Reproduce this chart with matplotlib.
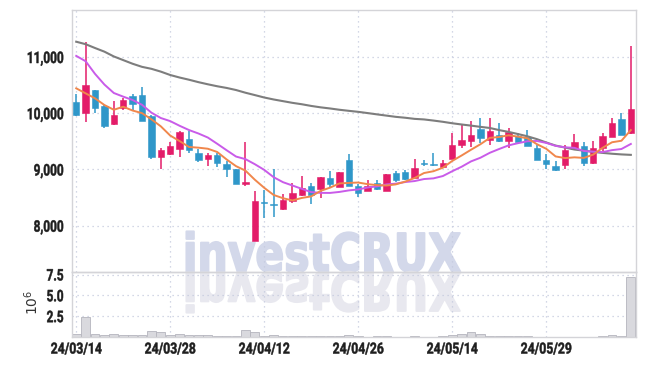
import matplotlib
matplotlib.use('Agg')
import matplotlib.pyplot as plt
from matplotlib.patheffects import AbstractPathEffect
from matplotlib.transforms import Affine2D

plt.rcParams['font.family'] = ['Roboto', 'DejaVu Sans']

# daily candles, 24/03/14 .. 24/06/12 (60 trading days)
opens = [10195, 10000, 10410, 10130, 9800, 10100, 10310, 10320, 9950, 9230,
         9270, 9360, 9550, 9300, 9190, 9255, 9095, 9000, 8745, 7730,
         8410, 8390, 8290, 8445, 8545, 8700, 8650, 8855, 8690, 9165,
         8715, 8615, 8765, 8620, 8930, 8950, 8845, 9110, 9085, 9050,
         9190, 9435, 9510, 9715, 9525, 9610, 9510, 9595, 9570, 9385,
         9165, 9060, 9080, 9360, 9415, 9110, 9375, 9585, 9895, 9640]
highs = [10340, 11270, 10420, 10150, 10220, 10280, 10340, 10460, 9960, 9380,
         9490, 9690, 9690, 9360, 9300, 9290, 9150, 9010, 9490, 8610,
         8630, 9000, 8560, 8760, 8880, 8760, 8865, 8970, 8955, 9275,
         8750, 8820, 8820, 8920, 8970, 8990, 9180, 9170, 9285, 9165,
         9640, 9800, 9860, 9910, 9910, 9835, 9730, 9650, 9710, 9435,
         9275, 9150, 9435, 9635, 9495, 9510, 9640, 9910, 10010, 11200]
lows = [9950, 9840, 10000, 9740, 9790, 10050, 10060, 9860, 9180, 9000,
        9250, 9230, 9290, 9140, 9070, 9040, 8860, 8740, 8710, 7720,
        8140, 8150, 8285, 8400, 8525, 8380, 8500, 8690, 8690, 8705,
        8515, 8610, 8630, 8615, 8780, 8820, 8840, 9060, 9065, 9045,
        9185, 9390, 9405, 9465, 9435, 9495, 9390, 9485, 9410, 9165,
        9000, 8975, 9000, 9350, 9060, 9105, 9330, 9580, 9610, 9635]
closes = [9960, 10500, 10100, 9780, 9970, 10230, 10160, 9870, 9230, 9345,
          9410, 9670, 9345, 9170, 9250, 9120, 9005, 8750, 8775, 8440,
          8400, 8370, 8460, 8575, 8665, 8540, 8860, 8745, 8950, 8710,
          8575, 8715, 8660, 8915, 8810, 8825, 9035, 9100, 9075, 9120,
          9430, 9520, 9610, 9565, 9685, 9510, 9670, 9490, 9415, 9170,
          9095, 8990, 9345, 9480, 9120, 9390, 9595, 9835, 9615, 10070]

ma5 = [10443, 10354, 10265, 10146, 10062, 10116, 10048, 10002, 9892, 9767,
       9603, 9505, 9400, 9388, 9369, 9311, 9178, 9059, 8980, 8818,
       8674, 8547, 8489, 8449, 8494, 8522, 8620, 8677, 8752, 8761,
       8768, 8739, 8722, 8715, 8735, 8785, 8849, 8937, 8969, 9031,
       9152, 9249, 9351, 9449, 9562, 9578, 9608, 9584, 9554, 9451,
       9368, 9232, 9203, 9216, 9206, 9265, 9386, 9484, 9511, 9701]
ma10 = [11020, 10925, 10700, 10510, 10360, 10295, 10235, 10150, 10010, 9915,
        9860, 9777, 9701, 9640, 9568, 9457, 9342, 9230, 9184, 9094,
        8993, 8863, 8774, 8715, 8656, 8598, 8584, 8583, 8601, 8628,
        8645, 8680, 8700, 8734, 8748, 8777, 8794, 8830, 8842, 8883,
        8969, 9049, 9144, 9209, 9297, 9365, 9429, 9468, 9502, 9507,
        9473, 9420, 9394, 9385, 9329, 9317, 9309, 9344, 9364, 9454]
ma60 = [11272, 11228, 11160, 11095, 11010, 10945, 10880, 10825, 10790, 10740,
        10680, 10635, 10596, 10553, 10515, 10480, 10450, 10413, 10365, 10323,
        10280, 10245, 10215, 10185, 10160, 10130, 10105, 10085, 10062, 10043,
        10025, 10003, 9980, 9958, 9936, 9920, 9900, 9890, 9870, 9848,
        9822, 9800, 9780, 9758, 9738, 9700, 9668, 9630, 9590, 9540,
        9480, 9425, 9390, 9355, 9335, 9313, 9295, 9280, 9268, 9260]

# volume in millions of shares
volume = [0.33, 2.35, 0.42, 0.3, 0.4, 0.3, 0.3, 0.3, 0.7, 0.58,
          0.25, 0.33, 0.22, 0.22, 0.2, 0.15, 0.12, 0.1, 0.9, 0.62,
          0.12, 0.3, 0.1, 0.08, 0.15, 0.1, 0.1, 0.08, 0.1, 0.25,
          0.08, 0.05, 0.08, 0.12, 0.05, 0.05, 0.08, 0.05, 0.06, 0.1,
          0.3, 0.4, 0.58, 0.4, 0.12, 0.15, 0.15, 0.08, 0.08, 0.05,
          0.05, 0.03, 0.05, 0.05, 0.05, 0.05, 0.08, 0.3, 0.15, 7.2]

tick_labels = ['24/03/14', '24/03/28', '24/04/12', '24/04/26', '24/05/14', '24/05/29']
price_ticks = [8000, 9000, 10000, 11000]
vol_ticks = [2.5, 5.0, 7.5]

UP = '#e31c69'
DOWN = '#2f97c9'
GRID = '#c5cadf'
SPINE = '#d4d4d8'
TXT = '#1e1e1e'


class Squash(AbstractPathEffect):
    """draw text narrower (condensed look), optionally mirrored about the baseline"""
    def __init__(self, fx=1.0, anchor='center', mirror=False, stroke=0.0):
        super().__init__()
        self.fx = fx
        self.anchor = anchor
        self.mirror = mirror
        self.stroke = stroke

    def draw_path(self, renderer, gc, tpath, affine, rgbFace=None):
        ext = tpath.get_extents()
        if self.anchor == 'right':
            a = ext.x1
        elif self.anchor == 'left':
            a = ext.x0
        else:
            a = (ext.x0 + ext.x1) / 2
        t = Affine2D().translate(-a, 0).scale(self.fx, -1 if self.mirror else 1).translate(a, 0) + affine
        gc0 = renderer.new_gc()
        gc0.copy_properties(gc)
        if self.stroke > 0:
            gc0.set_linewidth(self.stroke)
            gc0.set_foreground(rgbFace)
            gc0.set_joinstyle('round')
        renderer.draw_path(gc0, tpath, t, rgbFace)
        gc0.restore()


W, H = 645, 366
fig = plt.figure(figsize=(W / 100, H / 100), dpi=100)
ax = fig.add_axes([72 / W, 1 - 272 / H, 564 / W, 262 / H])
axv = fig.add_axes([72 / W, 1 - 337 / H, 564 / W, 65 / H], sharex=ax)

x = list(range(len(closes)))

# watermark with its reflection
wm_kw = dict(ha='center', va='baseline', fontsize=38, fontweight='bold',
             family='DejaVu Sans', zorder=-2)
wm = fig.text(321.5 / W, 1 - 271.5 / H, 'investCRUX', color='#d3d8ea', **wm_kw)
wm_r = fig.text(321.5 / W, 1 - 272.5 / H, 'investCRUX', color='#e8e8ef', **wm_kw)
fig.canvas.draw()
fx = 278 / wm.get_window_extent().width
wm.set_path_effects([Squash(fx, stroke=1.4)])
wm_r.set_path_effects([Squash(fx, mirror=True, stroke=1.4)])

for a in (ax, axv):
    a.set_facecolor('none')
    for s in a.spines.values():
        s.set_color(SPINE)
        s.set_linewidth(1.0)
    a.grid(True, color=GRID, linestyle=(0, (1, 3)), linewidth=0.9)
    a.tick_params(length=0, labelcolor=TXT, labelsize=11.5, pad=6)
    a.set_axisbelow(True)

# candles
cols = [UP if c >= o else DOWN for o, c in zip(opens, closes)]
ax.vlines(x, lows, highs, colors=cols, linewidth=1.1, zorder=2)
bodies = [max(abs(c - o), 18) for o, c in zip(opens, closes)]
bottoms = [min(o, c) if abs(c - o) >= 18 else (o + c) / 2 - 9 for o, c in zip(opens, closes)]
ax.bar(x, bodies, bottom=bottoms, width=0.68, color=cols, edgecolor=cols, linewidth=0.4, zorder=3)

ax.plot(x, ma60, color='#7d7d7d', linewidth=1.5, zorder=4)
ax.plot(x, ma10, color='#c95be9', linewidth=1.4, zorder=4)
ax.plot(x, ma5, color='#f0874c', linewidth=1.4, zorder=4)

ax.set_ylim(7177, 11836)
ax.set_yticks(price_ticks)
ax.set_yticklabels([f'{p:,}' for p in price_ticks], fontweight='bold')
ax.set_xlim(-0.45, 59.55)
ax.set_xticks(x[::10])
plt.setp(ax.get_xticklabels(), visible=False)

# volume
axv.bar(x, volume, width=0.95, color='#d9d9de', edgecolor='#b5b5bd', linewidth=0.6, zorder=2)
axv.set_ylim(0, 7.8)
axv.set_yticks(vol_ticks)
axv.set_yticklabels([f'{v:.1f}' for v in vol_ticks], fontweight='bold')
axv.set_xticks(x[::10])
axv.set_xticklabels(tick_labels, fontweight='bold', fontsize=11)
axv.tick_params(axis='x', pad=4)

plt.setp(ax.get_yticklabels() + axv.get_yticklabels(), path_effects=[Squash(0.74, 'right', stroke=0.35)])
plt.setp(axv.get_xticklabels(), path_effects=[Squash(0.8, stroke=0.35)])

fig.text(32 / W, 1 - 302 / H, r'$10^{6}$', rotation=90, ha='center', va='center',
         fontsize=10, color='#333333')

fig.savefig('out.png', dpi=100)
